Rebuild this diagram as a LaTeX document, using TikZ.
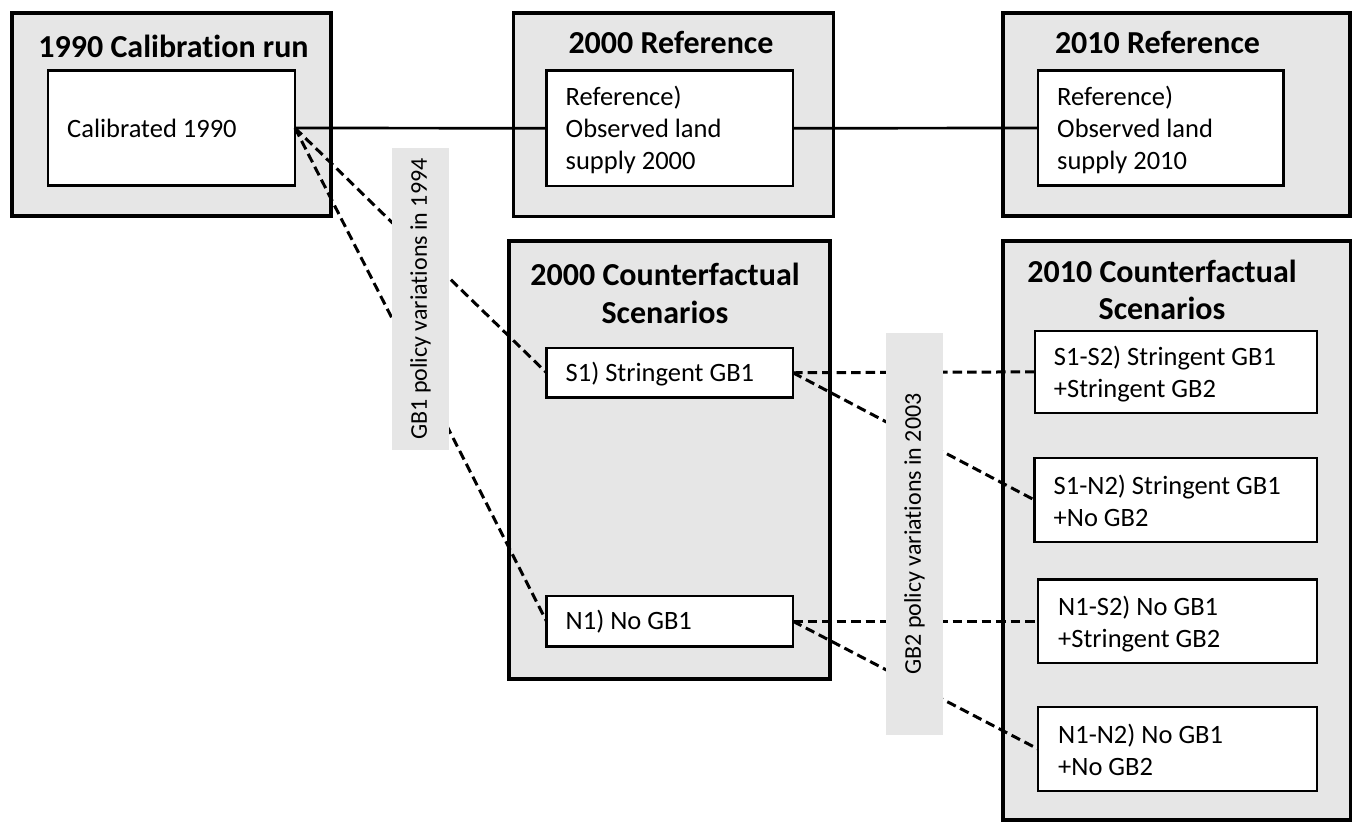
\documentclass[tikz,border=0pt]{standalone}
\usepackage{fontspec}
\setmainfont{Carlito}[Ligatures=NoCommon]
\usetikzlibrary{calc}
\definecolor{boxgray}{RGB}{230,230,230}
\newcommand\bodyfont{\fontsize{26.5pt}{32pt}\selectfont}
\newcommand\titlefont{\fontsize{32pt}{37.5pt}\selectfont\bfseries}
\newcommand\labfont{\fontsize{24pt}{28pt}\selectfont}
\begin{document}
\begin{tikzpicture}[x=1pt,y=-1pt,
  outerbox/.style={draw=black, fill=boxgray, line width=3.4pt, inner sep=0pt, outer sep=0pt},
  innerbox/.style={draw=black, fill=white, line width=2.4pt, inner sep=0pt, outer sep=0pt},
  boxtext/.style={anchor=base west, inner sep=0pt, font=\bodyfont},
  titletext/.style={anchor=base, inner sep=0pt, font=\titlefont},
  policylabel/.style={fill=boxgray, inner sep=0pt, rotate=90, font=\labfont},
  solidlink/.style={line width=2.7pt},
  dashlink/.style={line width=3pt, dash pattern=on 9.5pt off 5pt},
]
\useasboundingbox (0,0) rectangle (1356,823);

% outer boxes
\node[outerbox, minimum width=319pt, minimum height=203pt] (calbox) at (171.5,114.5) {};
\node[outerbox, minimum width=320pt, minimum height=203.5pt] (refA) at (673.5,114.75) {};
\node[outerbox, minimum width=347pt, minimum height=203pt] (refB) at (1176.5,114.5) {};
\node[outerbox, minimum width=321pt, minimum height=438pt] (cfA) at (669.5,460) {};
\node[outerbox, minimum width=347.5pt, minimum height=579pt] (cfB) at (1176.75,530.5) {};

% titles
\node[titletext] (calT) at (173.5,57) {1990 Calibration run};
\node[titletext] (refAT) at (671,53) {2000 Reference};
\node[titletext] (refBT) at (1157.5,53) {2010 Reference};
\node[titletext] (cfAT) at (665,285.5) {\parbox[t]{320pt}{\centering 2000 Counterfactual\\Scenarios}};
\node[titletext] (cfBT) at (1162,282) {\parbox[t]{340pt}{\centering 2010 Counterfactual\\Scenarios}};

% inner boxes
\node[innerbox, minimum width=247pt, minimum height=115pt] (cal90) at (171.5,128) {};
\node[innerbox, minimum width=246.5pt, minimum height=115.5pt] (obs00) at (669.75,128.25) {};
\node[innerbox, minimum width=245.5pt, minimum height=115pt] (obs10) at (1160.75,128) {};
\node[innerbox, minimum width=246.5pt, minimum height=49.5pt] (s1) at (669.75,372.75) {};
\node[innerbox, minimum width=246.5pt, minimum height=50.5pt] (n1) at (669.75,621.25) {};
\node[innerbox, minimum width=282.3pt, minimum height=81.7pt] (s1s2) at (1175.85,371.85) {};
\node[innerbox, minimum width=282.5pt, minimum height=84pt] (s1n2) at (1175.75,500) {};
\node[innerbox, minimum width=279pt, minimum height=83.5pt] (n1s2) at (1177.5,621.25) {};
\node[innerbox, minimum width=279pt, minimum height=84pt] (n1n2) at (1177.5,749) {};

% texts in inner boxes
\node[boxtext] (cal90t) at ($(cal90.west)+(19,9)$) {Calibrated 1990};
\node[boxtext] (obs00t) at ($(obs00.west)+(19,-23)$) {\parbox[t]{220pt}{Reference)\\Observed land\\supply 2000}};
\node[boxtext] (obs10t) at ($(obs10.west)+(19,-23)$) {\parbox[t]{220pt}{Reference)\\Observed land\\supply 2010}};
\node[boxtext] (s1t) at ($(s1.west)+(19,8.5)$) {S1) Stringent GB1};
\node[boxtext] (n1t) at ($(n1.west)+(19,8.5)$) {N1) No GB1};
\node[boxtext] (s1s2t) at ($(s1s2.west)+(19,-6)$) {\parbox[t]{260pt}{S1-S2) Stringent GB1\\+Stringent GB2}};
\node[boxtext] (s1n2t) at ($(s1n2.west)+(19,-6)$) {\parbox[t]{260pt}{S1-N2) Stringent GB1\\+No GB2}};
\node[boxtext] (n1s2t) at ($(n1s2.west)+(20,-6)$) {\parbox[t]{250pt}{N1-S2) No GB1\\+Stringent GB2}};
\node[boxtext] (n1n2t) at ($(n1n2.west)+(20,-6)$) {\parbox[t]{250pt}{N1-N2) No GB1\\+No GB2}};

% connectors
\draw[solidlink] (cal90.east) -- (obs00.west);
\draw[solidlink] (obs00.east) -- (obs10.west);
\draw[dashlink] (cal90.east) -- (s1.west);
\draw[dashlink] (cal90.east) -- (n1.west);
\draw[dashlink] (s1.east) -- (s1s2.west);
\draw[dashlink] (s1.east) -- (s1n2.west);
\draw[dashlink] (n1.east) -- (n1s2.west);
\draw[dashlink] (n1.east) -- (n1n2.west);

% policy labels
\node[policylabel, minimum width=302pt, minimum height=57pt] (gb1) at (420.5,299) {GB1 policy variations in 1994};
\node[policylabel, minimum width=402pt, minimum height=57pt] (gb2) at (914.5,534) {GB2 policy variations in 2003};
\end{tikzpicture}
\end{document}
